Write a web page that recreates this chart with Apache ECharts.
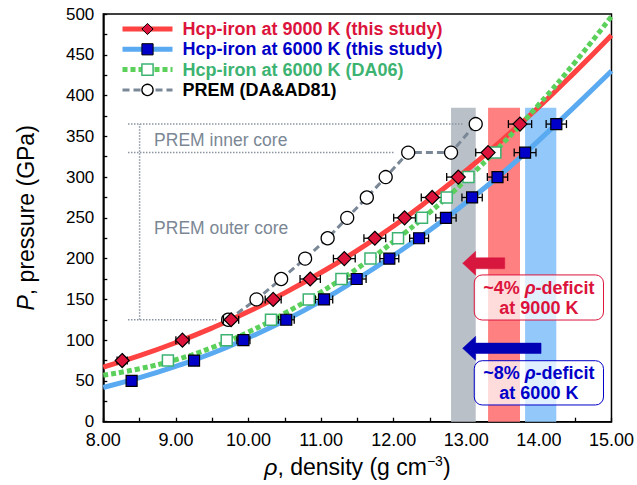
<!DOCTYPE html>
<html><head><meta charset="utf-8">
<script src="https://cdn.jsdelivr.net/npm/echarts@6/dist/echarts.min.js"></script>
<style>html,body{margin:0;padding:0;background:#fff}#c{width:637px;height:485px}</style>
</head><body><div id="c"></div>
<script>
// ---- data ----
const xTickLabels = ['8.00','9.00','10.00','11.00','12.00','13.00','14.00','15.00'];
const yTickLabels = ['0','50','100','150','200','250','300','350','400','450','500'];

const red9000Rho = [8.26, 9.09, 9.76, 10.34, 10.85, 11.32, 11.74, 12.15, 12.53, 12.89, 13.30, 13.74];
const red9000P   = [75, 100, 125, 150, 175, 200, 225, 250, 275, 300, 330, 365];
const red9000Err = [0.07, 0.09, 0.105, 0.11, 0.14, 0.15, 0.15, 0.15, 0.15, 0.16, 0.17, 0.16];

const blue6000Rho = [8.39, 9.25, 9.93, 10.52, 11.04, 11.49, 11.94, 12.35, 12.72, 13.08, 13.43, 13.81, 14.24];
const blue6000P   = [50, 75, 100, 125, 150, 175, 200, 225, 250, 275, 300, 330, 365];
const blue6000Err = [0.06, 0.07, 0.09, 0.11, 0.12, 0.13, 0.13, 0.13, 0.14, 0.14, 0.14, 0.15, 0.14];

const da06Rho = [8.89, 9.70, 10.31, 10.83, 11.28, 11.68, 12.06, 12.39, 12.73, 13.03, 13.40];
const da06P   = [75, 100, 125, 150, 175, 200, 225, 250, 275, 300, 330];

const premRho = [9.72, 10.11, 10.45, 10.78, 11.09, 11.36, 11.63, 11.89, 12.20, 12.79, 13.13];
const premP   = [125, 150, 175, 200, 225, 250, 275, 300, 330, 330, 365];

const fitRho   = [8.0, 8.5, 9.0, 9.5, 10.0, 10.5, 11.0, 11.5, 12.0, 12.5, 13.0, 13.5, 14.0, 14.5, 15.0];
const fit9000P = [67, 81, 97, 115, 135, 158, 183, 210, 240, 273, 308, 346, 386, 429, 474];
const fit6000P = [42, 54, 68, 84, 103, 124, 148, 175, 204, 235, 269, 305, 345, 387, 430];
const fitDA06P = [57, 65, 76, 91, 110, 133, 159, 188, 221, 257, 297, 341, 389, 441, 497];

const premBand = [12.79, 13.13];
const band9000 = [13.30, 13.74];
const band6000 = [13.81, 14.24];

// ---- helpers ----
const zip = (a, b) => a.map((v, i) => [v, b[i]]);
const zip3 = (a, b, c) => a.map((v, i) => [v, b[i], c[i]]);
const FONT = "'Liberation Sans', Arial, Helvetica, sans-serif";

const N9000 = 'Hcp-iron at 9000 K (this study)';
const N6000 = 'Hcp-iron at 6000 K (this study)';
const NDA06 = 'Hcp-iron at 6000 K (DA06)';
const NPREM = 'PREM (DA&AD81)';

function errorBar(params, api) {
  const x = api.value(0), y = api.value(1), e = api.value(2);
  const l = api.coord([x - e, y]), r = api.coord([x + e, y]);
  const h = 4;
  const st = { stroke: '#000', lineWidth: 1.3 };
  return { type: 'group', children: [
    { type: 'line', shape: { x1: l[0], y1: l[1], x2: r[0], y2: r[1] }, style: st },
    { type: 'line', shape: { x1: l[0], y1: l[1] - h, x2: l[0], y2: l[1] + h }, style: st },
    { type: 'line', shape: { x1: r[0], y1: r[1] - h, x2: r[0], y2: r[1] + h }, style: st }
  ]};
}

function bandsRender(params, api) {
  const ch = [];
  const bandTopP = 385;
  [[premBand, '#b9c0c8'], [band9000, '#ff8080'], [band6000, '#93c8fa']].forEach(([b, c]) => {
    const p0 = api.coord([b[0], bandTopP]), p1 = api.coord([b[1], 0]);
    ch.push({ type: 'rect', shape: { x: p0[0], y: p0[1], width: p1[0] - p0[0], height: p1[1] - p0[1] }, style: { fill: c } });
  });
  const guides = [
    [[8.34, 365], [12.95, 365]],
    [[8.34, 330], [12.01, 330]],
    [[8.34, 125], [9.57, 125]],
    [[8.50, 125], [8.50, 365]]
  ];
  guides.forEach(([a, b]) => {
    const pa = api.coord(a), pb = api.coord(b);
    ch.push({ type: 'line', shape: { x1: pa[0], y1: pa[1], x2: pb[0], y2: pb[1] },
      style: { stroke: '#8a95a1', lineWidth: 1.5, lineDash: [1.5, 1.5] } });
  });
  return { type: 'group', children: ch };
}

function annotRender(params, api) {
  const ch = [];
  // PREM texts
  [['PREM inner core', 8.70, 345.5], ['PREM outer core', 8.70, 237.5]].forEach(([t, x, y]) => {
    const p = api.coord([x, y]);
    ch.push({ type: 'text', x: p[0], y: p[1], style: { text: t, fill: '#7b8794', fontFamily: FONT, fontSize: 17.5, align: 'left', verticalAlign: 'middle' } });
  });
  // arrows
  [[12.95, 13.53, 194.3, '#d8173f', 5.5], [12.95, 14.03, 90, '#0000b4', 5.2]].forEach(([tip, tail, pv, col, bh]) => {
    const a = api.coord([tip, pv]), b = api.coord([tail, pv]);
    const y = a[1], hl = 13, hh = 12;
    ch.push({ type: 'polygon', shape: { points: [
      [a[0], y], [a[0] + hl, y - hh], [a[0] + hl, y - bh], [b[0], y - bh],
      [b[0], y + bh], [a[0] + hl, y + bh], [a[0] + hl, y + hh]] },
      style: { fill: col, stroke: col, lineWidth: 0.5 } });
  });
  // boxes with text
  [[13.11, 14.89, 180, 124.7, '#dc143c', '~4% ', 'at 9000 K'],
   [13.11, 14.89, 74.8, 20.5, '#0000c8', '~8% ', 'at 6000 K']].forEach(([x0, x1, y0, y1, col, t1, t2]) => {
    const p0 = api.coord([x0, y0]), p1 = api.coord([x1, y1]);
    ch.push({ type: 'rect', shape: { x: p0[0], y: p0[1], width: p1[0] - p0[0], height: p1[1] - p0[1], r: 8 },
      style: { fill: 'rgba(255,255,255,0.72)', stroke: col, lineWidth: 1 } });
    const cx = (p0[0] + p1[0]) / 2, cy = (p0[1] + p1[1]) / 2 + 0.5;
    ch.push({ type: 'text', x: cx, y: cy, style: {
      text: '{b|' + t1 + '}{bi|ρ}{b|-deficit}\n{b|' + t2 + '}',
      align: 'center', verticalAlign: 'middle',
      rich: {
        b: { fill: col, fontFamily: FONT, fontWeight: 'bold', fontSize: 18, lineHeight: 20 },
        bi: { fill: col, fontFamily: FONT, fontWeight: 'bold', fontStyle: 'italic', fontSize: 18, lineHeight: 20 }
      } } });
  });
  return { type: 'group', children: ch };
}

const chart = echarts.init(document.getElementById('c'), null, { renderer: 'svg', width: 637, height: 485 });

chart.setOption({
  animation: false,
  backgroundColor: '#fff',
  grid: { left: 103.3, right: 23.7, top: 14, bottom: 63.3, show: true, borderColor: '#000', borderWidth: 1.5, containLabel: false },
  xAxis: {
    type: 'value', min: 8, max: 15, interval: 1,
    name: '{i|ρ}, density (g cm{s|−3})',
    nameLocation: 'middle', nameGap: 30,
    nameTextStyle: { color: '#000', fontFamily: FONT, fontSize: 23,
      rich: { i: { fontStyle: 'italic', fontSize: 23, fontFamily: FONT, color: '#000' },
              s: { fontSize: 14, fontFamily: FONT, color: '#000', verticalAlign: 'top', lineHeight: 26 } } },
    axisLine: { show: true, onZero: false, lineStyle: { color: '#000', width: 1.5 } },
    axisTick: { show: true, inside: true, length: 4, lineStyle: { color: '#000', width: 1.3 } },
    minorTick: { show: true, splitNumber: 2, length: 4, lineStyle: { color: '#000', width: 1.3 } },
    axisLabel: { margin: 9, color: '#000', fontFamily: FONT, fontSize: 18, formatter: v => xTickLabels[Math.round(v - 8)] },
    splitLine: { show: false }
  },
  yAxis: {
    type: 'value', min: 0, max: 500, interval: 50,
    name: '{i|P}, pressure (GPa)',
    nameLocation: 'middle', nameGap: 66, nameRotate: 90,
    nameTextStyle: { color: '#000', fontFamily: FONT, fontSize: 23,
      rich: { i: { fontStyle: 'italic', fontSize: 23, fontFamily: FONT, color: '#000' } } },
    axisLine: { show: true, onZero: false, lineStyle: { color: '#000', width: 1.5 } },
    axisTick: { show: true, inside: true, length: 4, lineStyle: { color: '#000', width: 1.3 } },
    minorTick: { show: true, splitNumber: 2, length: 4, lineStyle: { color: '#000', width: 1.3 } },
    axisLabel: { margin: 9, color: '#000', fontFamily: FONT, fontSize: 17, lineHeight: 15, formatter: v => yTickLabels[Math.round(v / 50)] },
    splitLine: { show: false }
  },
  legend: {
    orient: 'vertical', left: 120, top: 19, padding: 0,
    itemWidth: 50, itemHeight: 14, itemGap: 0.3,
    selectedMode: false,
    textStyle: { fontFamily: FONT, fontWeight: 'bold', fontSize: 18, lineHeight: 20, padding: [0, 0, 0, 5] },
    data: [
      { name: N9000, textStyle: { color: '#dc143c' },
        itemStyle: { color: '#dc143c', borderColor: '#000', borderWidth: 1 },
        lineStyle: { color: '#ff4343', width: 5 } },
      { name: N6000, textStyle: { color: '#0000c8' },
        itemStyle: { color: '#0000c8', borderColor: '#000', borderWidth: 1 },
        lineStyle: { color: '#5aaaf2', width: 5 } },
      { name: NDA06, textStyle: { color: '#3cb371' },
        itemStyle: { color: '#fff', borderColor: '#3cb371', borderWidth: 1.5 },
        lineStyle: { color: '#5bd05b', width: 5, type: [5, 3] } },
      { name: NPREM, textStyle: { color: '#000' },
        itemStyle: { color: '#fff', borderColor: '#000', borderWidth: 1.3 },
        lineStyle: { color: '#7a8796', width: 3, type: [7, 4] } }
    ]
  },
  series: [
    { name: 'bands', type: 'custom', z: 1, silent: true, renderItem: bandsRender, data: [[8, 0]], encode: { x: 0, y: 1 } },
    { name: N9000, type: 'line', z: 3, smooth: true, showSymbol: false, symbol: 'diamond',
      data: zip(fitRho, fit9000P), lineStyle: { color: '#ff4343', width: 5 }, itemStyle: { color: '#dc143c' } },
    { name: N6000, type: 'line', z: 3, smooth: true, showSymbol: false, symbol: 'rect',
      data: zip(fitRho, fit6000P), lineStyle: { color: '#5aaaf2', width: 5 }, itemStyle: { color: '#0000c8' } },
    { name: NDA06, type: 'line', z: 3, smooth: true, showSymbol: false, symbol: 'rect',
      data: zip(fitRho, fitDA06P), lineStyle: { color: '#5bd05b', width: 5, type: [5, 3] }, itemStyle: { color: '#fff' } },
    { name: NPREM, type: 'line', z: 4, symbol: 'circle', symbolSize: 13, showSymbol: true,
      data: zip(premRho, premP), lineStyle: { color: '#7a8796', width: 3, type: [7, 4] },
      itemStyle: { color: '#fff', borderColor: '#000', borderWidth: 1.3 } },
    { name: 'err9000', type: 'custom', z: 5, renderItem: errorBar, data: zip3(red9000Rho, red9000P, red9000Err), encode: { x: 0, y: 1 } },
    { name: 'err6000', type: 'custom', z: 5, renderItem: errorBar, data: zip3(blue6000Rho, blue6000P, blue6000Err), encode: { x: 0, y: 1 } },
    { name: 'da06pts', type: 'scatter', z: 6, symbol: 'rect', symbolSize: 11, data: zip(da06Rho, da06P),
      itemStyle: { color: '#fff', borderColor: '#3cb371', borderWidth: 1.5, opacity: 1 } },
    { name: 'pts9000', type: 'scatter', z: 7, symbol: 'diamond', symbolSize: 14, data: zip(red9000Rho, red9000P),
      itemStyle: { color: '#dc143c', borderColor: '#000', borderWidth: 1.2, opacity: 1 } },
    { name: 'pts6000', type: 'scatter', z: 7, symbol: 'rect', symbolSize: 11, data: zip(blue6000Rho, blue6000P),
      itemStyle: { color: '#0000c8', borderColor: '#000', borderWidth: 1.2, opacity: 1 } },
    { name: 'annot', type: 'custom', z: 8, silent: true, renderItem: annotRender, data: [[8, 0]], encode: { x: 0, y: 1 } }
  ]
});
</script></body></html>
